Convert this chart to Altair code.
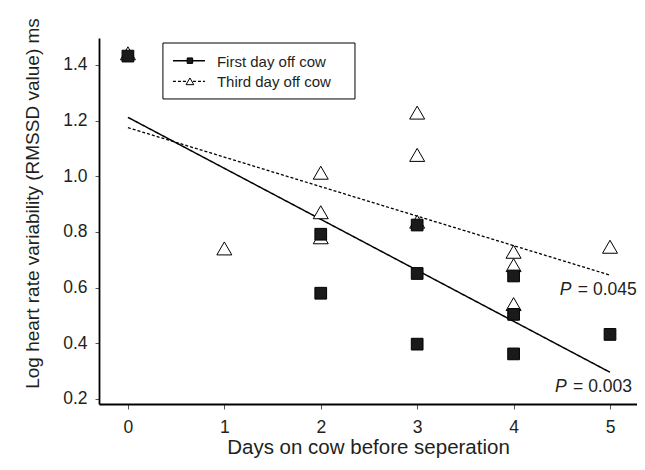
import altair as alt
import pandas as pd

# ---- data ----
series_names = ["First day off cow", "Third day off cow"]

first_x = [0, 2, 2, 3, 3, 3, 4, 4, 4, 5]
first_y = [1.432, 0.792, 0.580, 0.825, 0.651, 0.397, 0.642, 0.504, 0.362, 0.432]

third_x = [0, 1, 2, 2, 2, 3, 3, 3, 4, 4, 4, 5]
third_y = [1.442, 0.741, 1.013, 0.871, 0.781, 1.229, 1.077, 0.837, 0.729, 0.681, 0.541, 0.747]

fit_x = [0, 5]
first_fit = [1.212, 0.296]
third_fit = [1.175, 0.645]

ann_text = ["= 0.045", "= 0.003"]

x_ticks = [0, 1, 2, 3, 4, 5]
y_ticks = [0.2, 0.4, 0.6, 0.8, 1.0, 1.2, 1.4]

FONT = "Liberation Sans"
INK = "#231f20"

# ---- layout constants (in data units, placed through the scales) ----
ANN_X = [4.48, 4.43]
ANN_Y = [0.592, 0.243]
LEG_BOX = dict(x0=0.363, x1=2.355, y0=1.278, y1=1.479)
LEG_LINE_X = (0.467, 0.799)
LEG_MARK_X = 0.643
LEG_TEXT_X = 0.923
LEG_ROW_Y = [1.4155, 1.3414]

first_df = pd.DataFrame({"day": first_x, "hrv": first_y})
third_df = pd.DataFrame({"day": third_x, "hrv": third_y})
fits = pd.DataFrame(
    {"day": fit_x + fit_x,
     "hrv": first_fit + third_fit,
     "series": [series_names[0]] * 2 + [series_names[1]] * 2}
)
ann = pd.DataFrame({"day": ANN_X, "hrv": ANN_Y, "txt": ann_text})
leg_box = pd.DataFrame([LEG_BOX])
leg = pd.DataFrame({"series": series_names, "y": LEG_ROW_Y,
                    "x0": [LEG_LINE_X[0]] * 2, "x1": [LEG_LINE_X[1]] * 2,
                    "xm": [LEG_MARK_X] * 2, "xt": [LEG_TEXT_X] * 2})

x_scale = alt.Scale(domain=[-0.3, 5.28], nice=False, zero=False)
y_scale = alt.Scale(domain=[0.182, 1.497], nice=False, zero=False)

x_enc = alt.X("day:Q", scale=x_scale,
              axis=alt.Axis(values=x_ticks, format="d", title="Days on cow before seperation",
                            grid=False, tickSize=5, labelPadding=9, titlePadding=2,
                            labelFontSize=17.5, titleFontSize=20.5))
y_enc = alt.Y("hrv:Q", scale=y_scale,
              axis=alt.Axis(values=y_ticks, format=".1f",
                            title="Log heart rate variability (RMSSD value) ms",
                            grid=False, tickSize=4, labelPadding=8, titlePadding=20,
                            titleY=165,
                            labelFontSize=17.5, titleFontSize=19))

dash_scale = alt.Scale(domain=series_names, range=[[1, 0], [3, 2]])
width_scale = alt.Scale(domain=series_names, range=[1.5, 1.3])

lines = alt.Chart(fits).mark_line(color="black").encode(
    x=x_enc, y=y_enc,
    detail="series:N",
    strokeDash=alt.StrokeDash("series:N", scale=dash_scale, legend=None),
    strokeWidth=alt.StrokeWidth("series:N", scale=width_scale, legend=None),
)

triangles = alt.Chart(third_df).mark_point(
    shape="triangle-up", size=225, filled=True, fill="white", stroke="black", strokeWidth=1, opacity=1
).encode(x=x_enc, y=y_enc)

squares = alt.Chart(first_df).mark_point(
    shape="square", size=137, filled=True, fill="#1a1a1a", stroke="black", strokeWidth=1, opacity=1
).encode(x=x_enc, y=y_enc)

p_text = alt.Chart(ann).mark_text(align="left", baseline="middle", fontStyle="italic",
                                  fontSize=17.5, font=FONT, color=INK).encode(
    x="day:Q", y="hrv:Q", text=alt.value("P"))
eq_text = alt.Chart(ann).mark_text(align="left", baseline="middle", dx=18,
                                   fontSize=17.5, font=FONT, color=INK).encode(
    x="day:Q", y="hrv:Q", text="txt:N")

# ---- legend (box, line keys, marker keys, labels) ----
leg_frame = alt.Chart(leg_box).mark_rect(fill="white", stroke="black", strokeWidth=1).encode(
    x="x0:Q", x2="x1:Q", y="y0:Q", y2="y1:Q")
leg_lines = alt.Chart(leg).mark_rule(color="black").encode(
    x="x0:Q", x2="x1:Q", y="y:Q",
    strokeDash=alt.StrokeDash("series:N", scale=dash_scale, legend=None),
    strokeWidth=alt.StrokeWidth("series:N", scale=width_scale, legend=None),
)
leg_sq = alt.Chart(leg[leg.series == series_names[0]]).mark_point(
    shape="square", size=30, filled=True, fill="#1a1a1a", stroke="black", strokeWidth=1, opacity=1
).encode(x="xm:Q", y="y:Q")
leg_tri = alt.Chart(leg[leg.series == series_names[1]]).mark_point(
    shape="triangle-up", size=60, filled=True, fill="white", stroke="black", strokeWidth=1, opacity=1
).encode(x="xm:Q", y="y:Q")
leg_text = alt.Chart(leg).mark_text(align="left", baseline="middle", dy=1,
                                    fontSize=15, font=FONT, color=INK).encode(
    x="xt:Q", y="y:Q", text="series:N")

chart = alt.layer(lines, triangles, squares, p_text, eq_text,
                  leg_frame, leg_lines, leg_sq, leg_tri, leg_text).properties(
    width=538, height=366,
    autosize=alt.AutoSizeParams(type="none"),
    padding={"left": 91, "top": 30, "right": 0, "bottom": 54},
).configure_view(stroke=None).configure_axis(
    labelFont=FONT, titleFont=FONT, labelColor=INK, titleColor=INK,
    titleFontWeight="normal", domainColor="black", domainWidth=1.8,
    tickColor="#555", tickWidth=1,
)

chart.save("out.html", embed_options={"renderer": "svg", "actions": False})
